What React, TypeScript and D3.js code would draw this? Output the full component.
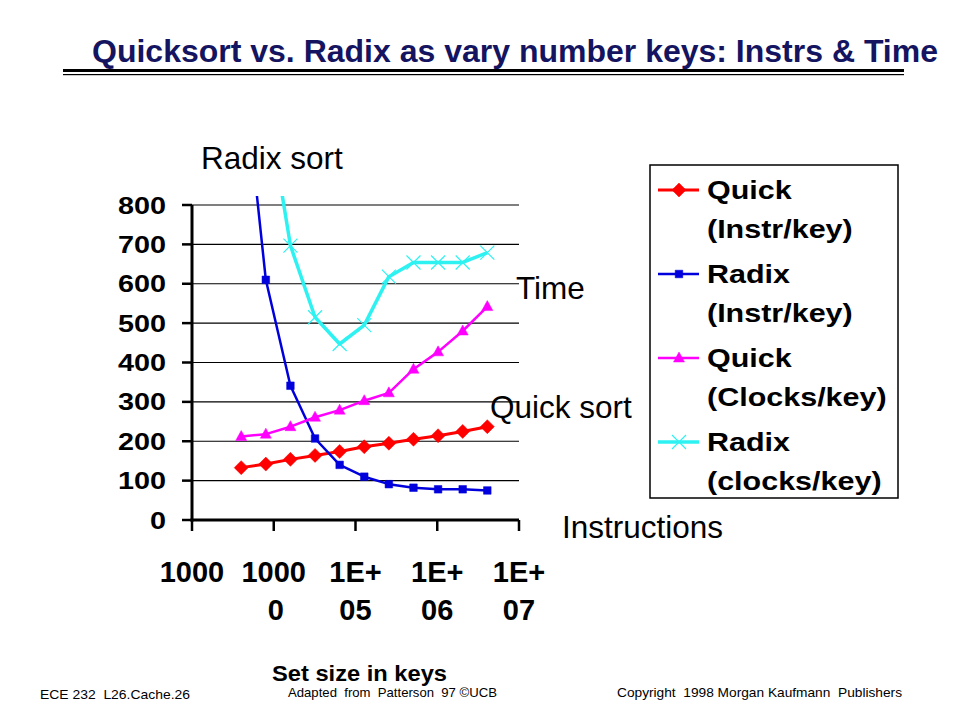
import React, { useEffect, useRef } from "react";
import * as d3 from "d3";

// set sizes (number of keys), doubling from 4000
const keys = [4000, 8000, 16000, 32000, 64000, 128000, 256000, 512000, 1024000, 2048000, 4096000];

// values
const quickInstr = [133, 142, 154, 164, 174, 186, 195, 205, 214, 225, 237];
const radixInstr = [1200, 610, 341, 207, 140, 110, 91, 82, 78, 78, 75];
const quickClocks = [212, 218, 237, 261, 279, 303, 323, 383, 427, 480, 542];
const radixClocks: (number | null)[] = [null, 1080, 697, 515, 447, 495, 618, 654, 654, 654, 679];

const yTicks = [0, 100, 200, 300, 400, 500, 600, 700, 800];
const xTicks = [1000, 10000, 100000, 1000000, 10000000];
const xTickLabels = [["1000"], ["1000", "0"], ["1E+", "05"], ["1E+", "06"], ["1E+", "07"]];

const legendNames = [
    ["Quick", "(Instr/key)"],
    ["Radix", "(Instr/key)"],
    ["Quick", "(Clocks/key)"],
    ["Radix", "(clocks/key)"],
];

const FONT = "'Liberation Sans', Arial, Helvetica, sans-serif";
const NARROW = "'Liberation Sans Narrow', 'Liberation Sans', Arial, sans-serif";

type Marker = "diamond" | "square" | "triangle" | "x";

interface Series {
    values: (number | null)[];
    color: string;
    width: number;
    marker: Marker;
}

const series: Series[] = [
    { values: quickInstr, color: "#ff0000", width: 3, marker: "diamond" },
    { values: radixInstr, color: "#0000dd", width: 2.5, marker: "square" },
    { values: quickClocks, color: "#ff00ff", width: 2.5, marker: "triangle" },
    { values: radixClocks, color: "#2ef2f2", width: 3.5, marker: "x" },
];

const markerPath = (m: Marker) => {
    switch (m) {
        case "diamond": return "M0,-7L7,0L0,7L-7,0Z";
        case "square": return "M-3.8,-3.8H3.8V3.8H-3.8Z";
        case "triangle": return "M0,-6L5.5,4L-5.5,4Z";
        case "x": return "M-7,-7L7,7M-7,7L7,-7";
    }
};

const drawMarker = (g: d3.Selection<SVGGElement, unknown, null, undefined>, s: Series, x: number, y: number) => {
    const p = g.append("path")
        .attr("d", markerPath(s.marker))
        .attr("transform", `translate(${x},${y})`);
    if (s.marker === "x") {
        p.attr("fill", "none").attr("stroke", s.color).attr("stroke-width", 1.2);
    } else {
        p.attr("fill", s.color).attr("stroke", s.color).attr("stroke-width", 0.5);
    }
};

export default function App() {
    const svgRef = useRef<SVGSVGElement | null>(null);
    const width = 960;
    const height = 720;

    useEffect(() => {
        if (!svgRef.current) return;
        const svg = d3.select(svgRef.current);
        svg.selectAll("*").remove();

        svg.append("rect").attr("width", width).attr("height", height).attr("fill", "#ffffff");

        // title + double rule
        svg.append("text")
            .attr("x", 92).attr("y", 62)
            .attr("font-family", FONT).attr("font-weight", "bold").attr("font-size", 32)
            .attr("fill", "#141460")
            .attr("textLength", 846).attr("lengthAdjust", "spacingAndGlyphs")
            .text("Quicksort vs. Radix as vary number keys: Instrs & Time");
        svg.append("rect").attr("x", 63).attr("y", 69).attr("width", 841).attr("height", 3).attr("fill", "#000");
        svg.append("rect").attr("x", 63).attr("y", 74).attr("width", 841).attr("height", 1.2).attr("fill", "#000");

        const x = d3.scaleLog().domain([1000, 10000000]).range([192, 519]);
        const y = d3.scaleLinear().domain([0, 800]).range([520, 205]);

        // gridlines
        svg.append("g").selectAll("line")
            .data(yTicks.filter(t => t > 0))
            .join("line")
            .attr("x1", x(1000)).attr("x2", x(10000000))
            .attr("y1", d => y(d)).attr("y2", d => y(d))
            .attr("stroke", "#000").attr("stroke-width", 1.2);

        // y axis
        const yAxis = svg.append("g");
        yAxis.append("line")
            .attr("x1", x(1000)).attr("x2", x(1000))
            .attr("y1", y(800)).attr("y2", y(0) + 1.5)
            .attr("stroke", "#000").attr("stroke-width", 3);
        yAxis.selectAll("line.tick")
            .data(yTicks)
            .join("line").attr("class", "tick")
            .attr("x1", x(1000) - 10).attr("x2", x(1000))
            .attr("y1", d => y(d)).attr("y2", d => y(d))
            .attr("stroke", "#000").attr("stroke-width", 2.5);
        yAxis.selectAll("text")
            .data(yTicks)
            .join("text")
            .attr("transform", d => `translate(166,${y(d) + 8.5}) scale(1.2,1)`)
            .attr("text-anchor", "end")
            .attr("font-family", FONT).attr("font-weight", "bold").attr("font-size", 24)
            .text(d => String(d));

        // x axis
        const xAxis = svg.append("g");
        xAxis.append("line")
            .attr("x1", x(1000) - 1.5).attr("x2", x(10000000))
            .attr("y1", y(0)).attr("y2", y(0))
            .attr("stroke", "#000").attr("stroke-width", 3);
        xAxis.selectAll("line.tick")
            .data(xTicks)
            .join("line").attr("class", "tick")
            .attr("x1", d => x(d)).attr("x2", d => x(d))
            .attr("y1", y(0)).attr("y2", y(0) + 11)
            .attr("stroke", "#000").attr("stroke-width", 2.5);
        xTicks.forEach((t, i) => {
            xTickLabels[i].forEach((line, j) => {
                xAxis.append("text")
                    .attr("x", x(t) + (j === 1 && i === 1 ? 2 : 0)).attr("y", 582 + j * 38)
                    .attr("text-anchor", "middle")
                    .attr("font-family", FONT).attr("font-weight", "bold").attr("font-size", 29)
                    .text(line);
            });
        });

        // series
        svg.append("defs").append("clipPath").attr("id", "plotClip")
            .append("rect").attr("x", 150).attr("y", 196).attr("width", 420).attr("height", 360);
        const plot = svg.append("g").attr("clip-path", "url(#plotClip)");
        const line = d3.line<number | null>()
            .defined(d => d !== null)
            .x((_, i) => x(keys[i]))
            .y(d => y(d as number));
        series.forEach(s => {
            plot.append("path")
                .attr("d", line(s.values))
                .attr("fill", "none")
                .attr("stroke", s.color)
                .attr("stroke-width", s.width)
                .attr("stroke-linejoin", "round");
            const mg = plot.append("g");
            s.values.forEach((v, i) => {
                if (v === null) return;
                drawMarker(mg, s, x(keys[i]), y(v));
            });
        });

        // annotations
        const notes: [string, number, number][] = [
            ["Radix sort", 201, 169],
            ["Time", 516, 299],
            ["Quick sort", 490, 418],
            ["Instructions", 562, 538],
        ];
        svg.append("g").selectAll("text")
            .data(notes)
            .join("text")
            .attr("x", d => d[1]).attr("y", d => d[2])
            .attr("font-family", FONT).attr("font-size", 31.5)
            .text(d => d[0]);

        // legend
        const lg = svg.append("g");
        lg.append("rect")
            .attr("x", 650).attr("y", 165).attr("width", 248).attr("height", 333)
            .attr("fill", "#fff").attr("stroke", "#000").attr("stroke-width", 1.5);
        series.forEach((s, i) => {
            const cy = 190 + i * 84;
            lg.append("line")
                .attr("x1", 658).attr("x2", 699)
                .attr("y1", cy).attr("y2", cy)
                .attr("stroke", s.color).attr("stroke-width", s.width);
            drawMarker(lg as any, s, 679, cy);
            legendNames[i].forEach((t, j) => {
                lg.append("text")
                    .attr("transform", `translate(707,${cy + 9 + j * 39}) scale(1.22,1)`)
                    .attr("font-family", FONT).attr("font-weight", "bold").attr("font-size", 25)
                    .text(t);
            });
        });

        // footer
        svg.append("text")
            .attr("x", 272).attr("y", 681)
            .attr("font-family", FONT).attr("font-weight", "bold").attr("font-size", 22)
            .attr("textLength", 175).attr("lengthAdjust", "spacingAndGlyphs")
            .text("Set size in keys");
        const foot: [string, number, number, number][] = [
            ["ECE 232  L26.Cache.26", 40, 699, 150],
            ["Adapted  from  Patterson  97 ©UCB", 288, 697, 209],
            ["Copyright  1998 Morgan Kaufmann  Publishers", 617, 697, 285],
        ];
        svg.append("g").selectAll("text")
            .data(foot)
            .join("text")
            .attr("x", d => d[1]).attr("y", d => d[2])
            .attr("font-family", NARROW).attr("font-size", 13.5)
            .attr("textLength", d => d[3]).attr("lengthAdjust", "spacingAndGlyphs")
            .attr("xml:space", "preserve")
            .text(d => d[0]);
    }, []);

    return (
        <svg
            ref={svgRef}
            width={width}
            height={height}
            style={{ position: "absolute", left: 0, top: 0, display: "block" }}
        />
    );
}
